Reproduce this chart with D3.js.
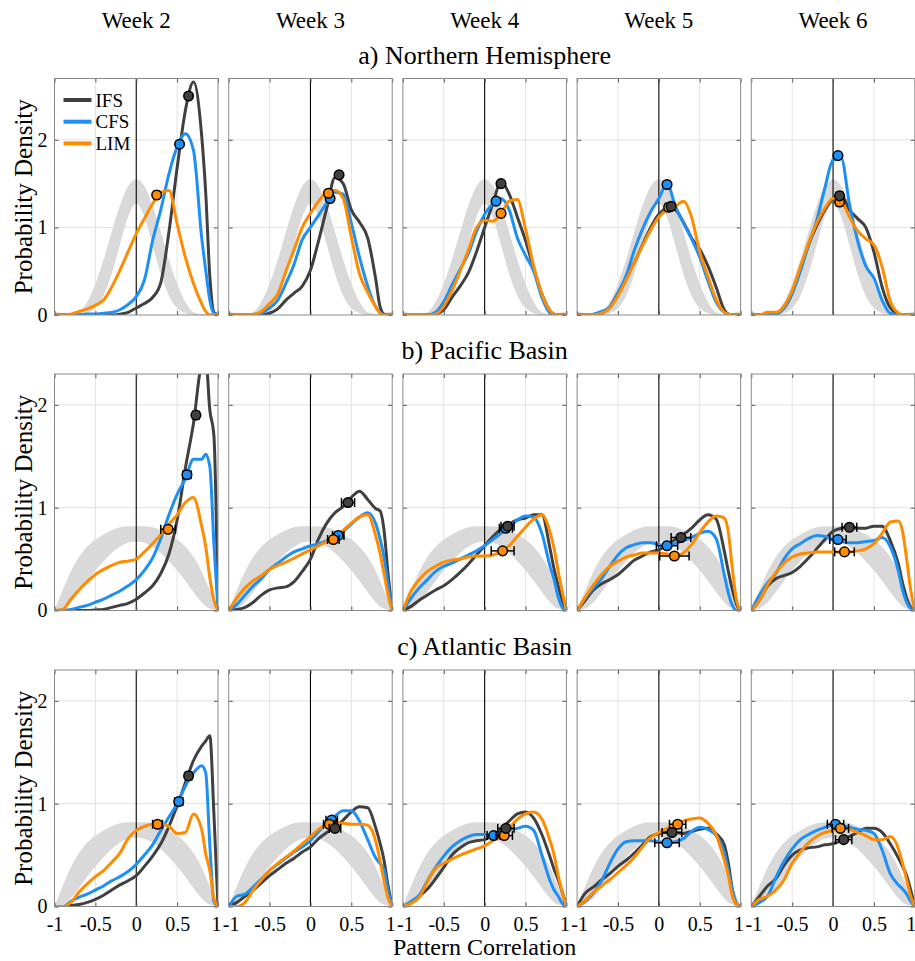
<!DOCTYPE html>
<html>
<head>
<meta charset="utf-8">
<script src="https://cdn.jsdelivr.net/npm/d3@7"></script>
<style>
  body { margin: 0; background: #fff; }
  svg text { font-family: "Liberation Serif", "Tinos", "DejaVu Serif", "Noto Serif", serif !important; fill: #000; }
</style>
</head>
<body>
<div id="chart"></div>
<script>
// ---- data -------------------------------------------------------------
const xGrid = [-1, -0.9, -0.8, -0.7, -0.6, -0.5, -0.4, -0.3, -0.2, -0.1, 0, 0.1, 0.2, 0.3, 0.4, 0.5, 0.6, 0.7, 0.8, 0.85, 0.9, 0.95, 1];
const weeks = ["Week 2", "Week 3", "Week 4", "Week 5", "Week 6"];
const regions = ["a) Northern Hemisphere", "b) Pacific Basin", "c) Atlantic Basin"];
const models = ["IFS", "CFS", "LIM"];
const yMax = [2.7, 2.3, 2.3];
const yTicks = [0, 1, 2];
const xTicks = [-1, -0.5, 0, 0.5, 1];
const xTickLabels = ["-1", "-0.5", "0", "0.5", "1"];

// null-distribution envelope (grey band)
const bandUpperNH = [0.04, 0.02, 0.01, 0.03, 0.15, 0.36, 0.63, 0.95, 1.25, 1.47, 1.55, 1.47, 1.25, 0.95, 0.63, 0.36, 0.15, 0.03, 0.01, 0.01, 0.02, 0.03, 0.04];
const bandLowerNH = [0, 0, 0, 0, 0.02, 0.08, 0.22, 0.47, 0.8, 1.12, 1.27, 1.12, 0.8, 0.47, 0.22, 0.08, 0.02, 0, 0, 0, 0, 0, 0];
const bandUpperBasin = [0, 0.2, 0.38, 0.52, 0.62, 0.69, 0.74, 0.78, 0.81, 0.82, 0.82, 0.82, 0.81, 0.78, 0.74, 0.69, 0.62, 0.52, 0.38, 0.29, 0.2, 0.1, 0];
const bandLowerBasin = [0, 0.02, 0.08, 0.18, 0.29, 0.39, 0.48, 0.56, 0.62, 0.66, 0.67, 0.66, 0.62, 0.56, 0.48, 0.39, 0.29, 0.18, 0.08, 0.04, 0.02, 0.005, 0];

// densities, one row per week (xGrid order)
const ifsNH = [
  [0, 0, 0, 0, 0, 0, 0, 0, 0.01, 0.03, 0.08, 0.13, 0.2, 0.37, 0.95, 1.68, 2.33, 2.66, 2.05, 1.39, 0.44, 0.03, 0],
  [0, 0, 0, 0, 0, 0.02, 0.07, 0.17, 0.25, 0.33, 0.51, 0.85, 1.22, 1.57, 1.5, 1.2, 1.06, 0.88, 0.4, 0.1, 0.01, 0, 0],
  [0, 0, 0, 0, 0.01, 0.06, 0.2, 0.33, 0.48, 0.72, 1.0, 1.27, 1.52, 1.38, 1.12, 0.85, 0.53, 0.24, 0.05, 0.01, 0, 0, 0],
  [0, 0, 0, 0.02, 0.09, 0.25, 0.42, 0.6, 0.8, 1.0, 1.15, 1.22, 1.2, 1.06, 0.88, 0.75, 0.56, 0.32, 0.06, 0.01, 0, 0, 0],
  [0, 0, 0, 0.02, 0.08, 0.25, 0.52, 0.8, 1.02, 1.2, 1.33, 1.37, 1.2, 1.1, 1.0, 0.72, 0.32, 0.08, 0.01, 0, 0, 0, 0]
];
const cfsNH = [
  [0, 0, 0, 0, 0.01, 0.01, 0.02, 0.03, 0.06, 0.12, 0.21, 0.4, 0.85, 1.2, 1.61, 1.92, 2.07, 1.88, 0.89, 0.51, 0.17, 0.02, 0],
  [0, 0, 0, 0, 0.02, 0.08, 0.17, 0.36, 0.58, 0.86, 1.0, 1.14, 1.28, 1.4, 1.38, 1.05, 0.66, 0.33, 0.09, 0.03, 0, 0, 0],
  [0, 0, 0, 0, 0.03, 0.15, 0.34, 0.52, 0.7, 0.95, 1.15, 1.27, 1.33, 1.2, 0.88, 0.68, 0.5, 0.2, 0.02, 0, 0, 0, 0],
  [0, 0, 0.01, 0.04, 0.09, 0.25, 0.45, 0.74, 0.98, 1.18, 1.33, 1.5, 1.25, 1.05, 0.87, 0.66, 0.39, 0.15, 0.03, 0.01, 0, 0, 0],
  [0, 0, 0, 0.01, 0.08, 0.25, 0.5, 0.8, 1.08, 1.45, 1.77, 1.79, 1.27, 0.85, 0.56, 0.42, 0.17, 0.02, 0, 0, 0, 0, 0]
];
const limNH = [
  [0, 0, 0.01, 0.04, 0.07, 0.11, 0.17, 0.32, 0.51, 0.72, 0.93, 1.1, 1.27, 1.4, 1.42, 1.04, 0.66, 0.36, 0.13, 0.04, 0, 0, 0],
  [0, 0, 0, 0.01, 0.04, 0.13, 0.24, 0.5, 0.75, 1.0, 1.16, 1.3, 1.4, 1.42, 1.33, 0.89, 0.47, 0.26, 0.09, 0.02, 0, 0, 0],
  [0, 0, 0, 0, 0.01, 0.1, 0.28, 0.5, 0.74, 1.0, 1.08, 1.07, 1.16, 1.3, 1.32, 0.98, 0.56, 0.24, 0.05, 0.01, 0, 0, 0],
  [0, 0, 0, 0.02, 0.08, 0.22, 0.4, 0.6, 0.79, 0.97, 1.12, 1.2, 1.24, 1.3, 1.12, 0.72, 0.44, 0.18, 0.03, 0.01, 0, 0, 0],
  [0, 0, 0.03, 0.03, 0.1, 0.28, 0.55, 0.82, 1.05, 1.22, 1.33, 1.3, 1.12, 0.96, 0.87, 0.8, 0.55, 0.16, 0.02, 0, 0, 0, 0]
];

const ifsPB = [
  [0, 0, 0, 0, 0, 0.005, 0.01, 0.03, 0.05, 0.07, 0.11, 0.17, 0.24, 0.36, 0.55, 0.88, 1.38, 1.82, 2.4, 2.45, 1.95, 1.7, 0],
  [0, 0.01, 0.03, 0.08, 0.15, 0.2, 0.22, 0.23, 0.28, 0.38, 0.5, 0.7, 0.85, 0.95, 1.01, 1.1, 1.16, 1.08, 0.99, 0.97, 0.78, 0.35, 0],
  [0, 0.04, 0.1, 0.15, 0.2, 0.24, 0.3, 0.37, 0.45, 0.54, 0.63, 0.72, 0.79, 0.84, 0.88, 0.9, 0.93, 0.93, 0.6, 0.4, 0.24, 0.1, 0],
  [0, 0.1, 0.2, 0.26, 0.3, 0.35, 0.42, 0.49, 0.53, 0.57, 0.59, 0.64, 0.69, 0.74, 0.8, 0.88, 0.93, 0.89, 0.58, 0.38, 0.2, 0.06, 0],
  [0, 0.1, 0.24, 0.31, 0.34, 0.37, 0.43, 0.51, 0.6, 0.69, 0.77, 0.8, 0.81, 0.8, 0.8, 0.82, 0.82, 0.68, 0.45, 0.27, 0.12, 0.03, 0]
];
const cfsPB = [
  [0, 0, 0.01, 0.03, 0.05, 0.08, 0.11, 0.15, 0.19, 0.24, 0.3, 0.39, 0.51, 0.7, 0.93, 1.13, 1.28, 1.47, 1.47, 1.52, 1.4, 0.65, 0],
  [0, 0.06, 0.15, 0.24, 0.31, 0.4, 0.46, 0.52, 0.57, 0.6, 0.63, 0.65, 0.68, 0.72, 0.77, 0.84, 0.91, 0.95, 0.84, 0.7, 0.52, 0.25, 0],
  [0, 0.12, 0.22, 0.3, 0.38, 0.43, 0.46, 0.5, 0.54, 0.58, 0.63, 0.69, 0.75, 0.81, 0.88, 0.92, 0.91, 0.75, 0.43, 0.3, 0.13, 0.03, 0],
  [0, 0.12, 0.22, 0.31, 0.43, 0.54, 0.61, 0.64, 0.66, 0.66, 0.64, 0.63, 0.65, 0.68, 0.71, 0.75, 0.77, 0.7, 0.35, 0.17, 0.05, 0, 0],
  [0, 0.15, 0.27, 0.36, 0.5, 0.6, 0.65, 0.7, 0.73, 0.72, 0.69, 0.67, 0.66, 0.66, 0.67, 0.68, 0.71, 0.62, 0.38, 0.2, 0.08, 0.02, 0]
];
const limPB = [
  [0, 0.01, 0.11, 0.2, 0.28, 0.35, 0.4, 0.44, 0.47, 0.48, 0.5, 0.57, 0.65, 0.74, 0.84, 0.93, 1.05, 1.1, 0.82, 0.62, 0.32, 0.1, 0],
  [0, 0.12, 0.22, 0.29, 0.34, 0.4, 0.44, 0.47, 0.51, 0.55, 0.59, 0.63, 0.67, 0.71, 0.78, 0.85, 0.91, 0.93, 0.72, 0.56, 0.36, 0.15, 0],
  [0, 0.19, 0.3, 0.38, 0.43, 0.47, 0.49, 0.5, 0.52, 0.53, 0.53, 0.54, 0.57, 0.63, 0.72, 0.81, 0.89, 0.93, 0.76, 0.6, 0.38, 0.18, 0],
  [0, 0.13, 0.25, 0.35, 0.43, 0.48, 0.52, 0.54, 0.56, 0.56, 0.56, 0.55, 0.53, 0.56, 0.64, 0.76, 0.86, 0.92, 0.9, 0.76, 0.4, 0.1, 0],
  [0, 0.1, 0.25, 0.37, 0.46, 0.52, 0.55, 0.56, 0.57, 0.57, 0.57, 0.57, 0.57, 0.58, 0.6, 0.65, 0.75, 0.86, 0.87, 0.77, 0.5, 0.2, 0]
];

const ifsAB = [
  [0, 0, 0.01, 0.02, 0.04, 0.07, 0.11, 0.16, 0.21, 0.25, 0.3, 0.39, 0.49, 0.61, 0.78, 0.98, 1.2, 1.42, 1.56, 1.61, 1.66, 0.9, 0],
  [0, 0.04, 0.1, 0.16, 0.23, 0.3, 0.36, 0.42, 0.47, 0.53, 0.58, 0.66, 0.72, 0.77, 0.84, 0.92, 0.97, 0.96, 0.76, 0.62, 0.45, 0.2, 0],
  [0, 0.04, 0.1, 0.17, 0.27, 0.38, 0.5, 0.57, 0.62, 0.64, 0.65, 0.69, 0.75, 0.83, 0.9, 0.92, 0.86, 0.7, 0.48, 0.36, 0.26, 0.14, 0],
  [0, 0.13, 0.19, 0.26, 0.32, 0.39, 0.45, 0.52, 0.6, 0.68, 0.71, 0.72, 0.72, 0.71, 0.73, 0.75, 0.76, 0.71, 0.6, 0.42, 0.16, 0.02, 0],
  [0, 0.1, 0.2, 0.27, 0.4, 0.5, 0.55, 0.57, 0.58, 0.6, 0.61, 0.64, 0.68, 0.72, 0.76, 0.76, 0.72, 0.61, 0.47, 0.39, 0.3, 0.16, 0]
];
const cfsAB = [
  [0, 0, 0.05, 0.09, 0.12, 0.16, 0.2, 0.25, 0.29, 0.34, 0.41, 0.5, 0.6, 0.74, 0.87, 1.0, 1.17, 1.3, 1.37, 1.3, 0.6, 0.05, 0],
  [0, 0.1, 0.12, 0.19, 0.27, 0.35, 0.41, 0.47, 0.53, 0.58, 0.64, 0.73, 0.81, 0.88, 0.93, 0.93, 0.83, 0.65, 0.47, 0.42, 0.36, 0.15, 0],
  [0, 0.05, 0.11, 0.25, 0.38, 0.49, 0.58, 0.64, 0.68, 0.7, 0.7, 0.69, 0.72, 0.75, 0.76, 0.78, 0.74, 0.5, 0.25, 0.16, 0.1, 0.03, 0],
  [0, 0.05, 0.13, 0.25, 0.42, 0.56, 0.63, 0.64, 0.64, 0.64, 0.63, 0.62, 0.63, 0.66, 0.73, 0.77, 0.75, 0.69, 0.53, 0.35, 0.16, 0.03, 0],
  [0, 0.04, 0.1, 0.28, 0.44, 0.56, 0.65, 0.7, 0.74, 0.77, 0.79, 0.79, 0.77, 0.75, 0.74, 0.71, 0.55, 0.32, 0.21, 0.17, 0.12, 0.05, 0]
];
const limAB = [
  [0, 0, 0.04, 0.14, 0.22, 0.29, 0.35, 0.43, 0.52, 0.66, 0.74, 0.78, 0.8, 0.8, 0.78, 0.71, 0.72, 0.9, 0.75, 0.51, 0.35, 0.08, 0],
  [0, 0, 0.04, 0.16, 0.26, 0.35, 0.42, 0.48, 0.54, 0.61, 0.68, 0.75, 0.8, 0.81, 0.81, 0.8, 0.8, 0.79, 0.63, 0.45, 0.25, 0.08, 0],
  [0, 0.03, 0.09, 0.24, 0.37, 0.42, 0.46, 0.5, 0.53, 0.56, 0.59, 0.64, 0.68, 0.76, 0.85, 0.9, 0.92, 0.85, 0.64, 0.5, 0.3, 0.14, 0],
  [0, 0.06, 0.14, 0.2, 0.26, 0.33, 0.4, 0.48, 0.58, 0.67, 0.72, 0.76, 0.79, 0.83, 0.85, 0.86, 0.81, 0.7, 0.45, 0.3, 0.1, 0.02, 0],
  [0, 0.07, 0.1, 0.16, 0.26, 0.42, 0.53, 0.62, 0.68, 0.72, 0.74, 0.76, 0.75, 0.72, 0.69, 0.65, 0.65, 0.68, 0.56, 0.42, 0.26, 0.1, 0]
];

// mean correlation markers: [mean, density, half-width of error bar], one per week
const ifsMarkNH = [[0.64, 2.5, 0.02], [0.35, 1.6, 0.03], [0.2, 1.5, 0.03], [0.15, 1.24, 0.04], [0.08, 1.36, 0.04]];
const cfsMarkNH = [[0.53, 1.95, 0.02], [0.24, 1.33, 0.03], [0.14, 1.3, 0.03], [0.1, 1.49, 0.03], [0.06, 1.82, 0.03]];
const limMarkNH = [[0.25, 1.37, 0.03], [0.22, 1.39, 0.03], [0.2, 1.16, 0.03], [0.12, 1.23, 0.04], [0.08, 1.29, 0.04]];
const ifsMarkPB = [[0.73, 1.9, 0.04], [0.46, 1.05, 0.08], [0.28, 0.82, 0.08], [0.27, 0.71, 0.12], [0.2, 0.81, 0.09]];
const cfsMarkPB = [[0.62, 1.32, 0.05], [0.34, 0.73, 0.07], [0.26, 0.8, 0.08], [0.1, 0.63, 0.13], [0.06, 0.69, 0.1]];
const limMarkPB = [[0.39, 0.79, 0.09], [0.28, 0.69, 0.07], [0.22, 0.58, 0.14], [0.19, 0.53, 0.18], [0.14, 0.57, 0.12]];
const ifsMarkAB = [[0.64, 1.27, 0.04], [0.3, 0.76, 0.07], [0.26, 0.76, 0.1], [0.16, 0.72, 0.12], [0.13, 0.65, 0.1]];
const cfsMarkAB = [[0.52, 1.02, 0.05], [0.26, 0.84, 0.07], [0.11, 0.69, 0.08], [0.1, 0.62, 0.15], [0.03, 0.8, 0.1]];
const limMarkAB = [[0.26, 0.8, 0.06], [0.23, 0.8, 0.07], [0.24, 0.69, 0.1], [0.23, 0.8, 0.1], [0.09, 0.76, 0.1]];

// ---- layout -----------------------------------------------------------
const W = 915, H = 961;
const FONT = "'Liberation Serif', 'Tinos', 'DejaVu Serif', 'Noto Serif', serif";
const colLeft = [54.5, 228.7, 402.9, 577.1, 751.3];
const rowTop = [78.5, 374, 670];
const panelW = 163.5, panelH = 236.5;
const colors = { IFS: "#404040", CFS: "#1e8ff5", LIM: "#ff8c00" };

const curveSets = [[ifsNH, cfsNH, limNH], [ifsPB, cfsPB, limPB], [ifsAB, cfsAB, limAB]];
const markSets = [[ifsMarkNH, cfsMarkNH, limMarkNH], [ifsMarkPB, cfsMarkPB, limMarkPB], [ifsMarkAB, cfsMarkAB, limMarkAB]];
const bandUpper = [bandUpperNH, bandUpperBasin, bandUpperBasin];
const bandLower = [bandLowerNH, bandLowerBasin, bandLowerBasin];

const svg = d3.select("#chart").append("svg")
    .attr("width", W)
    .attr("height", H)
    .attr("font-family", FONT)
    .style("display", "block");
const defs = svg.append("defs");

// column titles
weeks.forEach((wk, c) => {
    svg.append("text")
        .attr("x", colLeft[c] + panelW / 2)
        .attr("y", 28)
        .attr("text-anchor", "middle")
        .attr("font-family", FONT)
        .style("font-size", "23px")
        .text(wk);
});

regions.forEach((reg, r) => {
    const top = rowTop[r];

    // row title
    svg.append("text")
        .attr("x", colLeft[0] + (colLeft[4] + panelW - colLeft[0]) / 2)
        .attr("y", top - 15)
        .attr("text-anchor", "middle")
        .attr("font-family", FONT)
        .style("font-size", "26px")
        .text(reg);

    // y label
    svg.append("text")
        .attr("transform", `translate(23,${top + panelH / 2}) rotate(-90)`)
        .attr("text-anchor", "middle")
        .attr("dy", "0.35em")
        .attr("font-family", FONT)
        .style("font-size", "25px")
        .text("Probability Density");

    weeks.forEach((wk, c) => {
        const left = colLeft[c];
        const x = d3.scaleLinear().domain([-1, 1]).range([left, left + panelW]);
        const y = d3.scaleLinear().domain([0, yMax[r]]).range([top + panelH, top]);
        const clipId = `clip-${r}-${c}`;

        defs.append("clipPath").attr("id", clipId)
            .append("rect")
            .attr("x", left).attr("y", top)
            .attr("width", panelW).attr("height", panelH);

        const g = svg.append("g");
        const inner = g.append("g").attr("clip-path", `url(#${clipId})`);

        // grid
        inner.selectAll(".gx").data([-0.5, 0.5]).enter().append("line")
            .attr("x1", d => x(d)).attr("x2", d => x(d))
            .attr("y1", top).attr("y2", top + panelH)
            .attr("stroke", "#e3e3e3").attr("stroke-width", 1);
        inner.selectAll(".gy").data(yTicks.filter(v => v > 0 && v < yMax[r])).enter().append("line")
            .attr("x1", left).attr("x2", left + panelW)
            .attr("y1", d => y(d)).attr("y2", d => y(d))
            .attr("stroke", "#e3e3e3").attr("stroke-width", 1);

        // null band
        const band = d3.area()
            .x((d, i) => x(xGrid[i]))
            .y0((d, i) => y(bandLower[r][i]))
            .y1((d, i) => y(bandUpper[r][i]))
            .curve(d3.curveMonotoneX);
        inner.append("path")
            .attr("d", band(xGrid))
            .attr("fill", "#d9d9d9");

        // zero line
        inner.append("line")
            .attr("x1", x(0)).attr("x2", x(0))
            .attr("y1", top).attr("y2", top + panelH)
            .attr("stroke", "#000").attr("stroke-width", 1.1);

        // density curves
        const line = d3.line()
            .x((d, i) => x(xGrid[i]))
            .y(d => y(d))
            .curve(d3.curveMonotoneX);
        models.forEach((m, k) => {
            inner.append("path")
                .attr("d", line(curveSets[r][k][c]))
                .attr("fill", "none")
                .attr("stroke", colors[m])
                .attr("stroke-width", 3)
                .attr("stroke-linejoin", "round");
        });

        // mean markers with error bars (CFS, LIM, then IFS on top)
        [1, 2, 0].forEach(k => {
            const [mx, my, err] = markSets[r][k][c];
            const mg = g.append("g");
            const cy = y(my);
            mg.append("line")
                .attr("x1", x(mx - err)).attr("x2", x(mx + err))
                .attr("y1", cy).attr("y2", cy)
                .attr("stroke", "#000").attr("stroke-width", 1.5);
            [mx - err, mx + err].forEach(v => {
                mg.append("line")
                    .attr("x1", x(v)).attr("x2", x(v))
                    .attr("y1", cy - 4.5).attr("y2", cy + 4.5)
                    .attr("stroke", "#000").attr("stroke-width", 1.5);
            });
            mg.append("circle")
                .attr("cx", x(mx)).attr("cy", cy).attr("r", 4.8)
                .attr("fill", colors[models[k]])
                .attr("stroke", "#000").attr("stroke-width", 1.5);
        });

        // axes (ticks point inward like MATLAB)
        const axColor = "#555";
        const yl = g.append("g").attr("transform", `translate(${left},0)`)
            .call(d3.axisLeft(y).tickValues(yTicks).tickSize(-4).tickPadding(7)
                .tickFormat(c === 0 ? d3.format("d") : () => ""));
        const yr = g.append("g").attr("transform", `translate(${left + panelW},0)`)
            .call(d3.axisRight(y).tickValues(yTicks).tickSize(-4).tickFormat(() => ""));
        const xt = g.append("g").attr("transform", `translate(0,${top})`)
            .call(d3.axisTop(x).tickValues(xTicks).tickSize(-4).tickFormat(() => ""));
        const xb = g.append("g").attr("transform", `translate(0,${top + panelH})`)
            .call(d3.axisBottom(x).tickValues(xTicks).tickSize(-4).tickPadding(10)
                .tickFormat((d, i) => r === 2 ? xTickLabels[i] : ""));
        [yl, yr, xt, xb].forEach(a => {
            a.attr("color", axColor).attr("font-family", FONT);
            a.select(".domain").remove();
            a.selectAll("text")
                .style("font-size", "20px")
                .attr("fill", "#000");
        });
        // keep the end labels of neighbouring panels from running into each other
        xb.selectAll(".tick text")
            .attr("dx", (d, i) => i === 0 ? (c === 0 ? 0 : 2) : (i === xTicks.length - 1 ? (c === 4 ? -4 : -2) : 0));

        g.append("rect")
            .attr("x", left).attr("y", top)
            .attr("width", panelW).attr("height", panelH)
            .attr("fill", "none")
            .attr("stroke", "#8a8a8a")
            .attr("stroke-width", 1);

        // legend in the first panel
        if (r === 0 && c === 0) {
            models.forEach((m, k) => {
                const ly = 100 + k * 21.7;
                g.append("line")
                    .attr("x1", left + 9).attr("x2", left + 37)
                    .attr("y1", ly).attr("y2", ly)
                    .attr("stroke", colors[m]).attr("stroke-width", 4);
                g.append("text")
                    .attr("x", left + 41).attr("y", ly)
                    .attr("dy", "0.35em")
                    .attr("font-family", FONT)
                    .style("font-size", "19px")
                    .text(m);
            });
        }
    });
});

// x label
svg.append("text")
    .attr("x", colLeft[0] + (colLeft[4] + panelW - colLeft[0]) / 2)
    .attr("y", 955)
    .attr("text-anchor", "middle")
    .attr("font-family", FONT)
    .style("font-size", "24px")
    .text("Pattern Correlation");
</script>
</body>
</html>
